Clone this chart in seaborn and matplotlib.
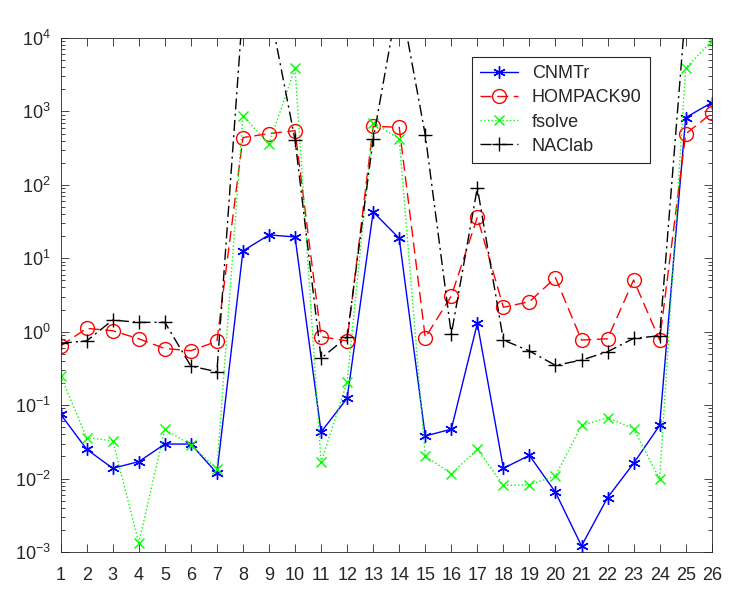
import numpy as np
import pandas as pd
import seaborn as sns
import matplotlib
matplotlib.use("Agg")
from matplotlib import pyplot as plt
from matplotlib.ticker import NullFormatter, FixedLocator

# problem index
problems = list(range(1, 27))

# values (log scale)
cnmtr = [0.075, 0.025, 0.0138, 0.017, 0.0295, 0.0295, 0.0118, 12.6, 20.8, 19.5,
         0.043, 0.124, 42.7, 18.7, 0.038, 0.047, 1.30, 0.0138, 0.0207, 0.0065,
         0.00121, 0.0055, 0.0161, 0.053, 824, 1318]
hompack90 = [0.64, 1.11, 1.03, 0.80, 0.59, 0.55, 0.74, 440, 499, 547,
             0.855, 0.75, 625, 609, 0.83, 3.06, 36.2, 2.15, 2.56, 5.44,
             0.77, 0.80, 5.06, 0.77, 494, 945]
fsolve = [0.25, 0.036, 0.0327, 0.00133, 0.047, 0.0286, 0.0136, 868, 361, 3880,
          0.0166, 0.208, 704, 422, 0.0203, 0.0116, 0.025, 0.0081, 0.0082, 0.0109,
          0.053, 0.067, 0.048, 0.0098, 3915, 9000]
naclab = [0.695, 0.75, 1.44, 1.34, 1.34, 0.34, 0.285, 27000, 27000, 409,
          0.434, 0.85, 418, 40000, 478, 0.92, 91.6, 0.77, 0.546, 0.348,
          0.41, 0.534, 0.81, 0.88, 25000, 30000]

series = [
    ("CNMTr", cnmtr, "#0000ff", (6, 2, 0), "-", 9),
    ("HOMPACK90", hompack90, "#ff0000", "o", (0, (8, 4)), 10),
    ("fsolve", fsolve, "#00ff00", "x", ":", 7),
    ("NAClab", naclab, "#000000", "+", (0, (8, 3, 1.5, 3)), 10),
]

sns.set_style("ticks")
plt.rcParams["font.family"] = ["Liberation Sans", "DejaVu Sans"]
plt.rcParams["mathtext.fontset"] = "custom"
plt.rcParams["mathtext.rm"] = "Liberation Sans"
plt.rcParams["xtick.direction"] = "in"
plt.rcParams["ytick.direction"] = "in"

fig = plt.figure(figsize=(7.48, 6.02), dpi=100)
ax = fig.add_axes([0.0811, 0.0831, 0.8704, 0.8538])
ax.set_yscale("log")

for name, vals, color, marker, ls, ms in series:
    sns.lineplot(x=problems, y=vals, ax=ax, color=color, marker=marker,
                 linestyle=ls, linewidth=1.0, markersize=ms,
                 markerfacecolor="none", markeredgecolor=color,
                 markeredgewidth=1.0, label=name)

ax.set_xlim(1, 26)
ax.set_ylim(1e-3, 1e4)
ax.set_xticks(problems)
ax.yaxis.set_major_locator(FixedLocator([10.0 ** k for k in range(-3, 5)]))
ax.set_xlabel("")
ax.set_ylabel("")
ax.yaxis.set_minor_formatter(NullFormatter())
ax.tick_params(axis="both", which="both", top=True, right=True,
               labelsize=13, colors="#262626", width=0.6)
ax.tick_params(axis="both", which="major", length=6)
ax.tick_params(axis="y", which="minor", length=3)
ax.tick_params(axis="x", which="major", pad=11)
ax.tick_params(axis="y", which="major", pad=7)
for s in ax.spines.values():
    s.set_linewidth(0.6)
    s.set_color("#262626")

leg = ax.legend(loc="upper right", bbox_to_anchor=(0.905, 0.963),
                fontsize=13, fancybox=False, framealpha=1,
                edgecolor="#262626", handlelength=2.1, borderpad=0.45,
                labelspacing=0.4, borderaxespad=0)
leg.get_frame().set_linewidth(0.8)

fig.savefig("out.png", dpi=100)
